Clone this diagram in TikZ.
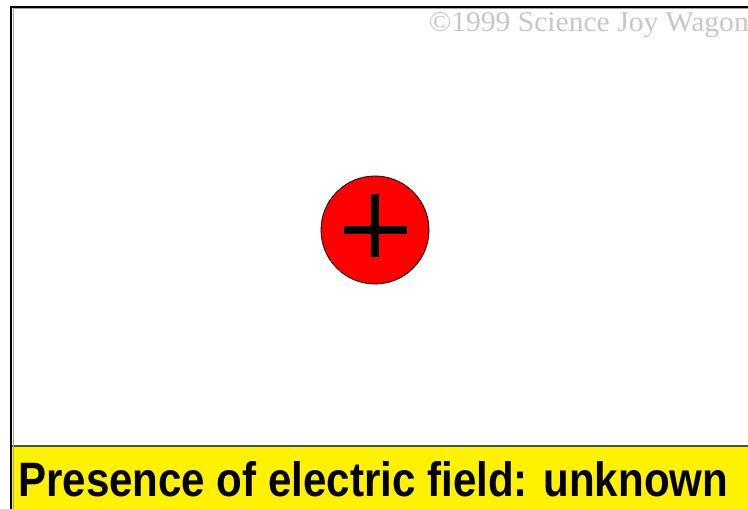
\documentclass[tikz,border=0pt]{standalone}
\usepackage{fontspec}
\setmainfont{Liberation Serif}
\newfontfamily\labelfont{Liberation Sans}
\begin{document}
\begin{tikzpicture}[x=1pt,y=1pt,
  frameline/.style={line width=2.2pt,black},
  capt/.style={anchor=base west,inner sep=0pt,font=\labelfont\bfseries\fontsize{44}{44}\selectfont},
  copyr/.style={anchor=base east,inner sep=0pt,text=black!22,font=\fontsize{25}{25}\selectfont}]
\useasboundingbox (0,0) rectangle (748,509);
\fill[white] (0,0) rectangle (748,509);
% yellow caption band
\fill[yellow] (12,0) rectangle (748,62);
\draw[black!70,line width=1.2pt] (12,63) -- (748,63);
% frame
\draw[black!35,line width=1pt] (13,0) -- (13,500) -- (748,500);
\draw[frameline] (11,0) -- (11,502) -- (748,502);
% charge
\node[circle,draw=black,line width=0.8pt,fill=red,minimum size=108pt,inner sep=0pt] (q) at (375,279) {};
\draw[line width=8pt,black] ([xshift=-31pt]q.center) -- ([xshift=32pt]q.center);
\draw[line width=8pt,black] ([yshift=-27pt]q.center) -- ([yshift=36pt]q.center);
% texts
\node[capt] (caption) at (18,12) {\resizebox{710pt}{35pt}{Presence of electric field: unknown}};
\node[copyr] (copy) at (749,477) {\resizebox{320pt}{19pt}{©1999 Science Joy Wagon}};
\end{tikzpicture}
\end{document}
